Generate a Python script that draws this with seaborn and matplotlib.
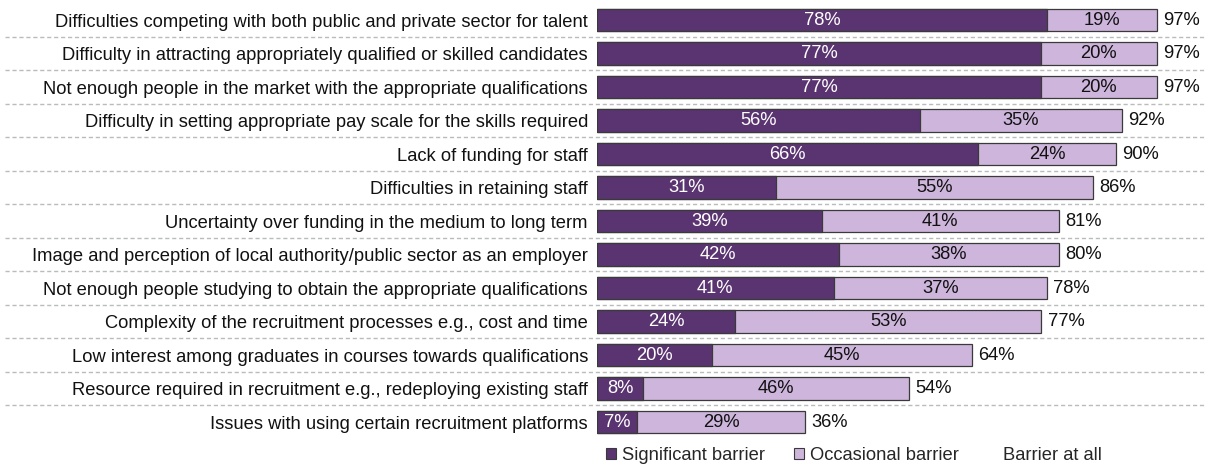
import numpy as np
import pandas as pd
import matplotlib
matplotlib.use("Agg")
import matplotlib.pyplot as plt
import matplotlib.transforms as mtransforms
from matplotlib.patches import Patch
import seaborn as sns

categories = [
    "Difficulties competing with both public and private sector for talent",
    "Difficulty in attracting appropriately qualified or skilled candidates",
    "Not enough people in the market with the appropriate qualifications",
    "Difficulty in setting appropriate pay scale for the skills required",
    "Lack of funding for staff",
    "Difficulties in retaining staff",
    "Uncertainty over funding in the medium to long term",
    "Image and perception of local authority/public sector as an employer",
    "Not enough people studying to obtain the appropriate qualifications",
    "Complexity of the recruitment processes e.g., cost and time",
    "Low interest among graduates in courses towards qualifications",
    "Resource required in recruitment e.g., redeploying existing staff",
    "Issues with using certain recruitment platforms",
]
significant = [78, 77, 77, 56, 66, 31, 39, 42, 41, 24, 20, 8, 7]
occasional = [19, 20, 20, 35, 24, 55, 41, 38, 37, 53, 45, 46, 29]
barrier_total = [97, 97, 97, 92, 90, 86, 81, 80, 78, 77, 64, 54, 36]

series_names = ["Significant barrier", "Occasional barrier", "Barrier at all"]
dark = "#5A3470"
light = "#CDB5DC"

sns.set_theme(style="white")
plt.rcParams["font.family"] = ["Liberation Sans", "DejaVu Sans"]

df = pd.DataFrame({
    "category": categories,
    "significant": significant,
    "occasional": occasional,
    "total": barrier_total,
})
df["stack"] = df["significant"] + df["occasional"]

fig = plt.figure(figsize=(12.09, 4.68), dpi=100)
ax = fig.add_axes([0.4938, 0.0625, 0.4772, 0.9305])

# Stacked bars: full stack in light colour, significant share drawn over it
sns.barplot(data=df, x="stack", y="category", orient="h", color=light,
            saturation=1, width=0.68, edgecolor="#3a3a3a", linewidth=0.9, ax=ax)
sns.barplot(data=df, x="significant", y="category", orient="h", color=dark,
            saturation=1, width=0.68, edgecolor="#3a3a3a", linewidth=0.9, ax=ax)

fs = 13.2
ax.set_xlim(0, 100)
ax.set_ylim(len(categories) - 0.5, -0.5)
ax.set_xlabel("")
ax.set_ylabel("")
ax.set_xticks([])
ax.tick_params(axis="y", length=0, pad=6.5, labelsize=fs, labelcolor="#111111")
for s in ax.spines.values():
    s.set_visible(False)

for i, (s, o, t) in enumerate(zip(significant, occasional, barrier_total)):
    ax.text(s / 2, i, f"{s}%", ha="center", va="center", color="white", fontsize=fs)
    ax.text(s + o / 2, i, f"{o}%", ha="center", va="center", color="#111111", fontsize=fs)
    ax.text(s + o + 1.1, i, f"{t}%", ha="left", va="center", color="#111111", fontsize=fs)

# Dashed separators between rows, spanning the full figure width
trans = mtransforms.blended_transform_factory(fig.transFigure, ax.transData)
for i in range(len(categories) - 1):
    ax.plot([0.004, 0.996], [i + 0.5, i + 0.5], transform=trans, clip_on=False,
            color="#B8BCBC", linestyle=(0, (3, 2)), linewidth=1.0, zorder=0)

handles = [
    Patch(facecolor=dark, edgecolor="#3a3a3a", linewidth=0.8),
    Patch(facecolor=light, edgecolor="#3a3a3a", linewidth=0.8),
    Patch(facecolor="none", edgecolor="none"),
]
fig.legend(handles, series_names, loc="center", ncol=3, frameon=False,
           bbox_to_anchor=(0.7065, 0.027), fontsize=fs, handlelength=0.55,
           handleheight=0.55, handletextpad=0.35, columnspacing=1.53)

fig.savefig("out.png", dpi=100, facecolor="white")
